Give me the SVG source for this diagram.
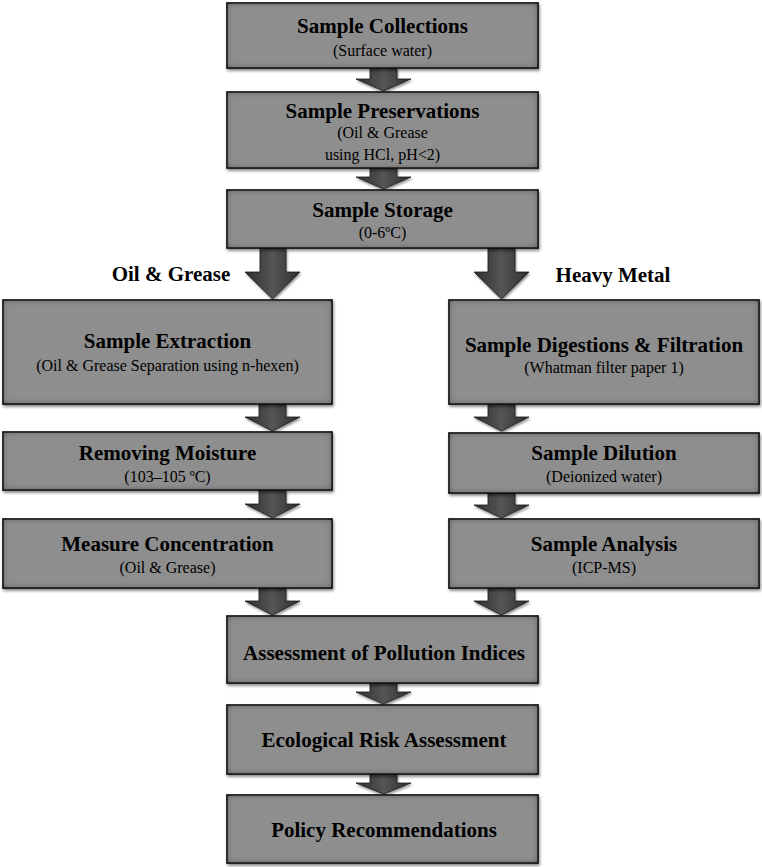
<svg xmlns="http://www.w3.org/2000/svg" width="762" height="867" viewBox="0 0 762 867">
<style>
.box{fill:#8e8e8e;stroke:#1e1e1e;stroke-width:1.5;filter:url(#boxf)}
.arr{fill:url(#ag);stroke:#1a1a1a;stroke-width:0.8;filter:url(#arrf)}
.t{font-family:"Liberation Serif","Times New Roman",serif;font-weight:bold;font-size:21px;fill:#000;text-anchor:middle}
.s{font-family:"Liberation Serif","Times New Roman",serif;font-size:16px;fill:#000;text-anchor:middle}
.lbl{font-family:"Liberation Serif","Times New Roman",serif;font-weight:bold;font-size:21px;fill:#000;text-anchor:middle}
</style>
<defs>
<filter id="boxf" x="-5%" y="-15%" width="110%" height="135%">
<feComponentTransfer in="SourceAlpha" result="inv"><feFuncA type="table" tableValues="1 0"/></feComponentTransfer>
<feGaussianBlur in="inv" stdDeviation="3.5" result="blur"/>
<feComposite in="blur" in2="SourceAlpha" operator="in" result="inner0"/>
<feComponentTransfer in="inner0" result="inner"><feFuncA type="linear" slope="0.9"/></feComponentTransfer>
<feGaussianBlur in="SourceAlpha" stdDeviation="1.5" result="ob"/>
<feOffset in="ob" dx="1" dy="2" result="outer0"/>
<feComponentTransfer in="outer0" result="outer"><feFuncA type="linear" slope="0.5"/></feComponentTransfer>
<feMerge><feMergeNode in="outer"/><feMergeNode in="SourceGraphic"/><feMergeNode in="inner"/></feMerge>
</filter>
<filter id="arrf" x="-20%" y="-20%" width="140%" height="150%">
<feGaussianBlur in="SourceAlpha" stdDeviation="1.2" result="ob"/>
<feOffset in="ob" dx="1" dy="1.5" result="o0"/>
<feComponentTransfer in="o0" result="o"><feFuncA type="linear" slope="0.4"/></feComponentTransfer>
<feMerge><feMergeNode in="o"/><feMergeNode in="SourceGraphic"/></feMerge>
</filter>
<linearGradient id="ag" x1="0" y1="0" x2="1" y2="0">
<stop offset="0" stop-color="#2e2e2e"/>
<stop offset="0.5" stop-color="#555"/>
<stop offset="1" stop-color="#2e2e2e"/>
</linearGradient>
</defs>

<g id="connectors">
<polygon class="arr" points="370,68 397,68 397,79 411,79 383.5,91 356,79 370,79"/>
<polygon class="arr" points="370,168 397,168 397,177 411,177 383.5,189 356,177 370,177"/>
<polygon class="arr" points="260,248 286,248 286,272 300,272 272.5,299 245,272 260,272"/>
<polygon class="arr" points="488,248 515,248 515,272 529,272 501.5,299 474,272 488,272"/>
<polygon class="arr" points="259,404 286,404 286,417 300,417 272.5,431 245,417 259,417"/>
<polygon class="arr" points="488,404 515,404 515,417 529,417 501.5,431 474,417 488,417"/>
<polygon class="arr" points="259,490 286,490 286,504 300,504 272.5,518 245,504 259,504"/>
<polygon class="arr" points="488,493 515,493 515,505 529,505 501.5,518 474,505 488,505"/>
<polygon class="arr" points="259,588 286,588 286,601 300,601 272.5,615 245,601 259,601"/>
<polygon class="arr" points="488,588 515,588 515,601 529,601 501.5,615 474,601 488,601"/>
<polygon class="arr" points="370,683 397,683 397,692 411,692 383.5,704 356,692 370,692"/>
<polygon class="arr" points="370,774 397,774 397,783 411,783 383.5,794 356,783 370,783"/>
</g>

<g id="labels">
<text class="lbl" x="171" y="281">Oil &amp; Grease</text>
<text class="lbl" x="613" y="282">Heavy Metal</text>
</g>

<g id="n1">
<rect class="box" x="227" y="3" width="311" height="65"/>
<text class="t" x="382.5" y="33">Sample Collections</text>
<text class="s" x="382.5" y="56">(Surface water)</text>
</g>
<g id="n2">
<rect class="box" x="227" y="92" width="311" height="76"/>
<text class="t" x="382.5" y="118">Sample Preservations</text>
<text class="s" x="382.5" y="138">(Oil &amp; Grease</text>
<text class="s" x="382.5" y="160">using HCl, pH&lt;2)</text>
</g>
<g id="n3">
<rect class="box" x="227" y="190" width="311" height="58"/>
<text class="t" x="382.5" y="217">Sample Storage</text>
<text class="s" x="382.5" y="238">(0-6ºC)</text>
</g>
<g id="n4">
<rect class="box" x="3" y="300" width="329" height="104"/>
<text class="t" x="167.5" y="348">Sample Extraction</text>
<text class="s" x="167.5" y="371">(Oil &amp; Grease Separation using n-hexen)</text>
</g>
<g id="n5">
<rect class="box" x="3" y="432" width="329" height="58"/>
<text class="t" x="167.5" y="460">Removing Moisture</text>
<text class="s" x="167.5" y="482">(103–105 ºC)</text>
</g>
<g id="n6">
<rect class="box" x="3" y="519" width="329" height="69"/>
<text class="t" x="167.5" y="551">Measure Concentration</text>
<text class="s" x="167.5" y="573">(Oil &amp; Grease)</text>
</g>
<g id="n7">
<rect class="box" x="449" y="300" width="310" height="104"/>
<text class="t" x="604" y="352">Sample Digestions &amp; Filtration</text>
<text class="s" x="604" y="373">(Whatman filter paper 1)</text>
</g>
<g id="n8">
<rect class="box" x="449" y="433" width="310" height="60"/>
<text class="t" x="604" y="460">Sample Dilution</text>
<text class="s" x="604" y="482">(Deionized water)</text>
</g>
<g id="n9">
<rect class="box" x="449" y="519" width="310" height="69"/>
<text class="t" x="604" y="551">Sample Analysis</text>
<text class="s" x="604" y="573">(ICP-MS)</text>
</g>
<g id="n10">
<rect class="box" x="227" y="616" width="311" height="67"/>
<text class="t" x="384" y="660">Assessment of Pollution Indices</text>
</g>
<g id="n11">
<rect class="box" x="227" y="705" width="311" height="69"/>
<text class="t" x="384" y="747">Ecological Risk Assessment</text>
</g>
<g id="n12">
<rect class="box" x="227" y="795" width="311" height="68"/>
<text class="t" x="384" y="837">Policy Recommendations</text>
</g>
</svg>
